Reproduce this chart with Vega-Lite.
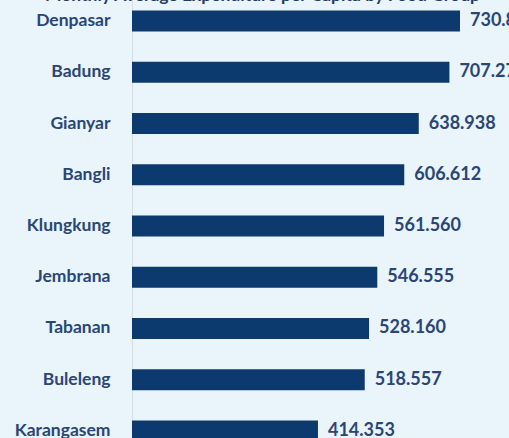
{
  "$schema": "https://vega.github.io/schema/vega-lite/v6.json",
  "autosize": "none",
  "width": 377,
  "height": 452,
  "padding": {"left": 132, "top": 0, "right": 0, "bottom": 0},
  "background": "#e9f4fb",
  "title": {
    "text": "Monthly Average Expenditure per Capita by Food Group",
    "font": "Lato",
    "fontSize": 17.5,
    "fontWeight": "bold",
    "color": "#1f3b64",
    "anchor": "middle",
    "baseline": "alphabetic",
    "offset": -18,
    "dx": -58
  },
  "data": {
    "values": [
      {"regency": "Denpasar", "value": 730821, "label": "730.821"},
      {"regency": "Badung", "value": 707275, "label": "707.275"},
      {"regency": "Gianyar", "value": 638938, "label": "638.938"},
      {"regency": "Bangli", "value": 606612, "label": "606.612"},
      {"regency": "Klungkung", "value": 561560, "label": "561.560"},
      {"regency": "Jembrana", "value": 546555, "label": "546.555"},
      {"regency": "Tabanan", "value": 528160, "label": "528.160"},
      {"regency": "Buleleng", "value": 518557, "label": "518.557"},
      {"regency": "Karangasem", "value": 414353, "label": "414.353"}
    ]
  },
  "encoding": {
    "y": {
      "field": "regency",
      "type": "nominal",
      "sort": null,
      "scale": {"paddingInner": 0.59, "paddingOuter": 0.205},
      "axis": {
        "title": null,
        "ticks": false,
        "domain": true,
        "domainColor": "#d6dde4",
        "labelFont": "Lato",
        "labelFontSize": 17.5,
        "labelFontWeight": "bold",
        "labelColor": "#2a4676",
        "labelPadding": 22
      }
    },
    "x": {
      "field": "value",
      "type": "quantitative",
      "scale": {"domain": [0, 840000], "nice": false},
      "axis": null
    }
  },
  "layer": [
    {"mark": {"type": "bar", "color": "#0d3a6e"}},
    {
      "mark": {"type": "text", "align": "left", "dx": 10, "font": "Lato", "fontSize": 18, "fontWeight": "bold", "color": "#2a4676"},
      "encoding": {"text": {"field": "label"}}
    }
  ],
  "config": {"view": {"stroke": null}, "axis": {"grid": false}}
}
